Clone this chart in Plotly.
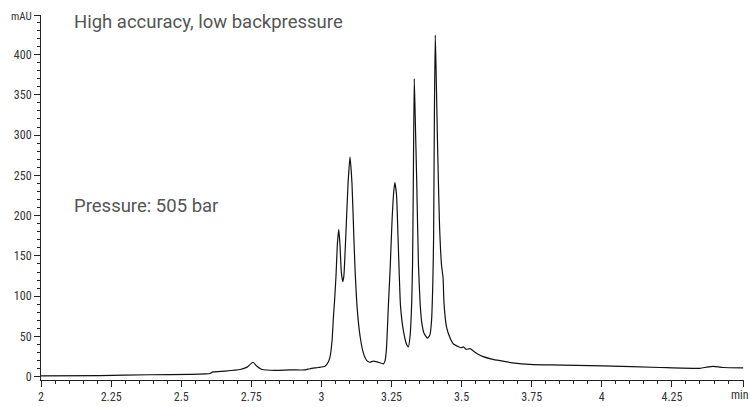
import plotly.graph_objects as go

# Retention time (min) and absorbance (mAU)
time_min = [
    2.000, 2.210, 2.389, 2.531, 2.585, 2.603, 2.613, 2.656, 2.710, 2.735,
    2.756, 2.770, 2.788, 2.835, 2.888, 2.942, 2.959, 2.988, 3.013, 3.024,
    3.031, 3.038, 3.043, 3.047, 3.052, 3.057, 3.062, 3.066, 3.071, 3.076,
    3.080, 3.087, 3.095, 3.102, 3.109, 3.116, 3.120, 3.128, 3.138, 3.150,
    3.162, 3.173, 3.185, 3.203, 3.221, 3.227, 3.232, 3.239, 3.245, 3.252,
    3.258, 3.262, 3.268, 3.273, 3.278, 3.282, 3.292, 3.304, 3.310, 3.316,
    3.322, 3.325, 3.328, 3.331, 3.334, 3.340, 3.346, 3.352, 3.358, 3.366,
    3.378, 3.387, 3.393, 3.397, 3.400, 3.403, 3.406, 3.409, 3.414, 3.421,
    3.428, 3.434, 3.437, 3.446, 3.459, 3.470, 3.488, 3.498, 3.507, 3.516,
    3.530, 3.540, 3.554, 3.577, 3.607, 3.637, 3.690, 3.744, 3.815, 4.004,
    4.208, 4.350, 4.374, 4.397, 4.432, 4.504,
]
signal_mau = [
    1.0, 1.5, 2.5, 3.0, 3.5, 4.0, 6.0, 7.0, 9.0, 12.0,
    18.0, 13.0, 9.0, 8.0, 8.5, 8.5, 10.0, 11.5, 13.0, 18.0,
    25.0, 45.0, 75.0, 95.0, 125.0, 165.0, 183.0, 165.0, 130.0, 118.0,
    125.0, 175.0, 240.0, 273.0, 240.0, 170.0, 133.0, 83.0, 50.0, 29.0,
    20.0, 18.0, 19.5, 18.0, 16.0, 20.0, 35.0, 90.0, 133.0, 195.0,
    230.0, 241.0, 225.0, 175.0, 123.0, 88.0, 58.0, 40.0, 37.0, 50.0,
    92.0, 140.0, 250.0, 370.0, 330.0, 240.0, 140.0, 91.0, 67.0, 54.0,
    48.0, 52.0, 71.0, 112.0, 170.0, 330.0, 424.0, 380.0, 290.0, 190.0,
    140.0, 122.0, 92.0, 62.0, 48.0, 41.0, 37.5, 36.0, 37.0, 34.0,
    35.0, 32.5, 29.0, 25.0, 22.0, 20.0, 17.0, 15.5, 14.7, 13.5,
    11.5, 10.5, 12.0, 13.0, 11.5, 11.0,
]

x_tick_vals = [2, 2.25, 2.5, 2.75, 3, 3.25, 3.5, 3.75, 4, 4.25, 4.505]
x_tick_text = ["2", "2.25", "2.5", "2.75", "3", "3.25", "3.5", "3.75", "4", "4.25", ""]
x_unit = "min"
x_minor_vals = [round(2 + 0.05 * i, 2) for i in range(1, 51) if i % 5 != 0]
y_tick_vals = [0, 50, 100, 150, 200, 250, 300, 350, 400, 448]
y_tick_text = ["0", "50", "100", "150", "200", "250", "300", "350", "400",
               "<span style='font-size:11px'>mAU</span>"]
y_minor_vals = [10 * i for i in range(1, 45) if i % 5 != 0]

title_text = "High accuracy, low backpressure"
pressure_text = "Pressure: 505 bar"

tick_font = dict(family="Roboto Condensed, Liberation Sans Narrow, Roboto", size=12, color="#333333")
axis_col = "#222222"
x_range = [2, 4.507]

fig = go.Figure()
fig.add_trace(go.Scatter(
    x=time_min, y=signal_mau, mode="lines",
    line=dict(color="#111111", width=1.2, shape="spline", smoothing=0.5),
    showlegend=False, hoverinfo="x+y",
))

fig.update_layout(
    width=750, height=407,
    margin=dict(l=41, r=6, t=15, b=27, autoexpand=False),
    paper_bgcolor="white", plot_bgcolor="white",
    xaxis=dict(
        range=x_range, showgrid=False, zeroline=False, automargin=False,
        showline=True, linecolor=axis_col, linewidth=1,
        tickmode="array", tickvals=x_tick_vals, ticktext=x_tick_text,
        ticks="outside", ticklen=6, tickcolor=axis_col, tickwidth=1,
        tickfont=tick_font,
        minor=dict(tickmode="array", tickvals=x_minor_vals, ticks="outside",
                   ticklen=3, tickcolor=axis_col, tickwidth=1, showgrid=False),
    ),
    yaxis=dict(
        range=[-4, 449], showgrid=False, zeroline=False, automargin=False,
        showline=True, linecolor=axis_col, linewidth=1,
        tickmode="array", tickvals=y_tick_vals, ticktext=y_tick_text,
        ticks="outside", ticklen=6, tickcolor=axis_col, tickwidth=1,
        tickfont=tick_font,
        minor=dict(tickmode="array", tickvals=y_minor_vals, ticks="outside",
                   ticklen=3, tickcolor=axis_col, tickwidth=1, showgrid=False),
    ),
    annotations=[
        dict(text=title_text, xref="paper", yref="paper", x=(72 - 41) / 703,
             y=(380 - 22) / 365,
             xanchor="left", yanchor="middle", showarrow=False,
             font=dict(family="Roboto", size=18.5, color="#555555")),
        dict(text=pressure_text, xref="paper", yref="paper", x=(72 - 41) / 703,
             y=(380 - 206) / 365, xanchor="left", yanchor="middle", showarrow=False,
             font=dict(family="Roboto", size=18.5, color="#555555")),
        dict(text=x_unit, xref="paper", yref="paper", x=(751 - 41) / 703,
             y=-(395 - 380) / 365, xanchor="right", yanchor="middle", showarrow=False,
             font=tick_font),
    ],
)

fig.write_html(
    "out.html",
    config={"displayModeBar": False},
    post_script="document.body.style.margin='0';document.body.style.overflow='hidden';",
)
